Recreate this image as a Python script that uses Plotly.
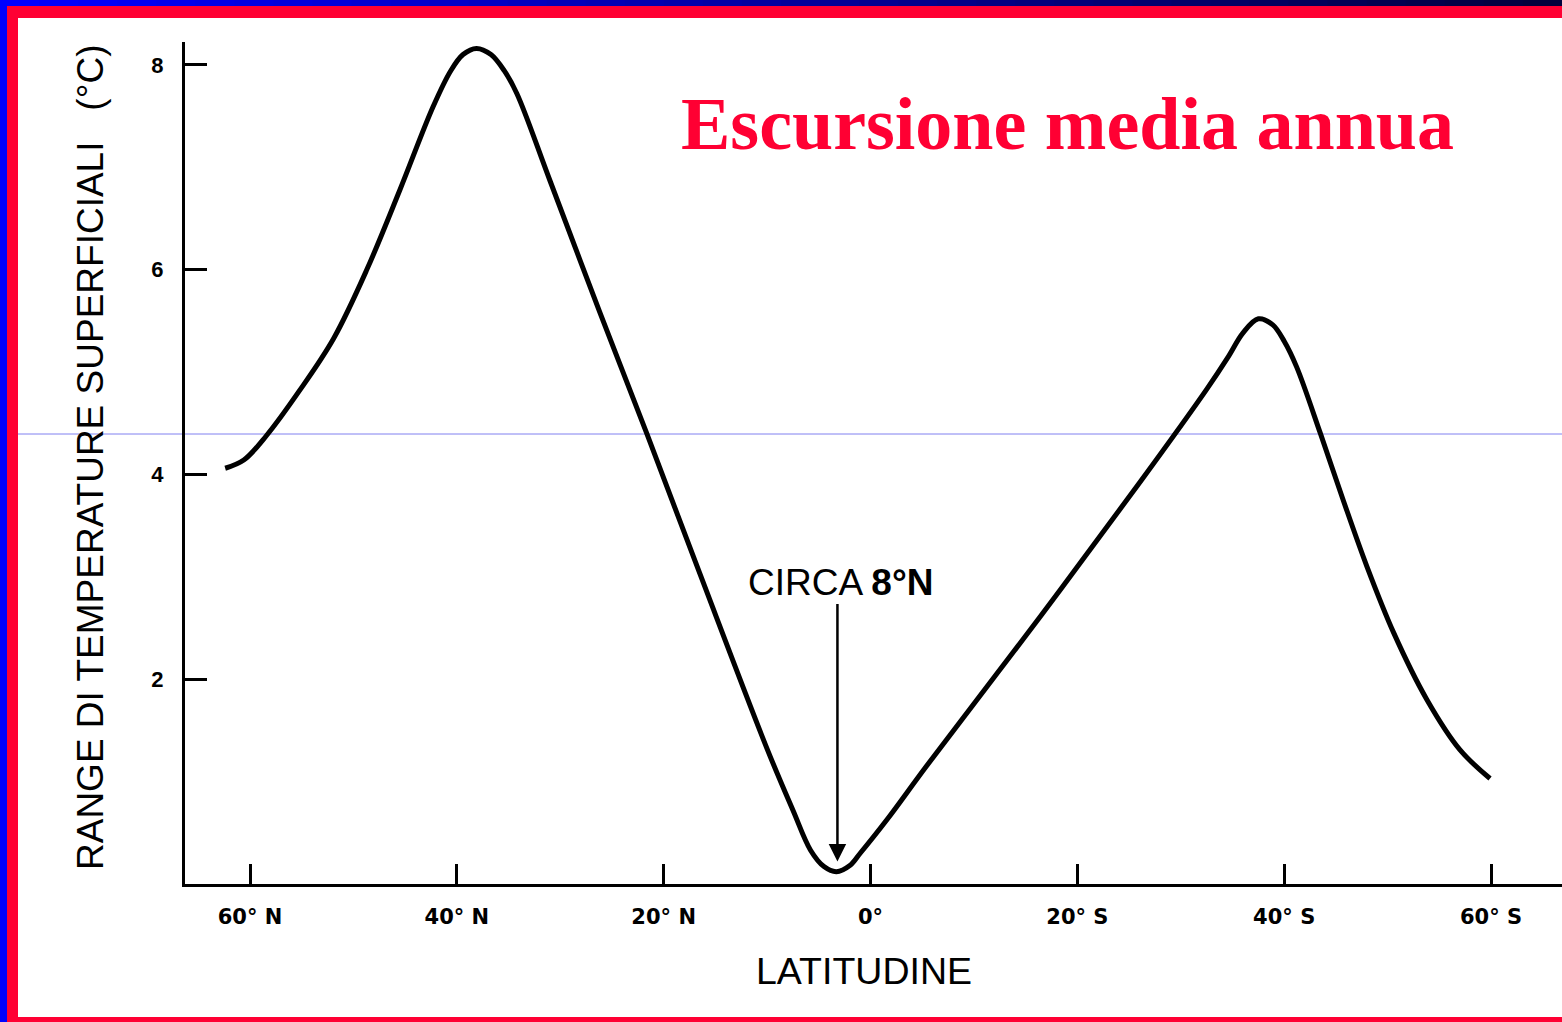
import plotly.graph_objects as go

# Latitude in degrees (north negative, south positive) and mean annual
# range of sea-surface temperature (°C)
latitude = [-62.4, -60.6, -58.4, -55.2, -51.9, -48.7, -45.5, -42.3, -40.6,
            -39.4, -38.1, -36.7, -35.4, -34.2, -31.0, -26.2, -21.6, -16.5,
            -10.0, -7.5, -5.8, -4.5, -3.3, -2.0, -1.0, 1.6, 5.4, 16.4, 26.1,
            32.5, 34.6, 36.0, 37.5, 38.9, 40.0, 41.2, 43.5, 45.7, 48.0, 50.6,
            53.8, 57.0, 59.9]
temp_range = [4.06, 4.14, 4.38, 4.82, 5.33, 6.00, 6.78, 7.59, 7.94,
              8.10, 8.16, 8.10, 7.94, 7.72, 6.87, 5.59, 4.39, 3.03,
              1.32, 0.72, 0.33, 0.17, 0.12, 0.18, 0.30, 0.63, 1.15, 2.61, 3.93,
              4.83, 5.15, 5.38, 5.52, 5.46, 5.30, 5.05, 4.40, 3.75, 3.10, 2.45,
              1.80, 1.31, 1.03]

x_tick_vals = [-60, -40, -20, 0, 20, 40, 60]
x_tick_text = ["60° N", "40° N", "20° N", "0°", "20° S", "40° S", "60° S"]
y_tick_vals = [2, 4, 6, 8]
y_tick_text = ["2", "4", "6", "8"]

# Minimum of the curve pointed at by the arrow
min_lat = -3.2
min_val = 0.22
arrow_top = 2.75

title_text = "Escursione media annua"
x_title = "LATITUDINE"
y_title = "RANGE DI TEMPERATURE SUPERFICIALI&nbsp;&nbsp;&nbsp;(°C)"
note_text = "CIRCA <b>8°N</b>"

RED = "#FF0033"
BLUE = "#0000FF"

# Page and plot-area geometry (pixels)
PAGE_W, PAGE_H = 1562, 1022
L, T = 185, 42
W, H = PAGE_W - L, 884 - T


def px(xp):
    return (xp - L) / W


def py(yp):
    return (T + H - yp) / H


fig = go.Figure()
fig.add_trace(go.Scatter(
    x=latitude, y=temp_range, mode="lines",
    line=dict(color="black", width=5, shape="spline", smoothing=1.0),
    hoverinfo="skip", showlegend=False,
))

shapes = []
# top strip: blue fading to navy
n_seg = 40
for i in range(n_seg):
    f = i / (n_seg - 1)
    r, g, b = 0, 0, int(255 - f * (255 - 60))
    x0 = i * PAGE_W / n_seg
    x1 = (i + 1) * PAGE_W / n_seg + 1
    shapes.append(dict(type="rect", xref="paper", yref="paper",
                       x0=px(x0), x1=px(x1), y0=py(0), y1=py(6),
                       fillcolor=f"rgb({r},{g},{b})", line_width=0, layer="above"))
# left blue strip
shapes.append(dict(type="rect", xref="paper", yref="paper",
                   x0=px(0), x1=px(7), y0=py(0), y1=py(PAGE_H),
                   fillcolor=BLUE, line_width=0, layer="above"))
# red frame: top, left, bottom
shapes.append(dict(type="rect", xref="paper", yref="paper",
                   x0=px(7), x1=px(PAGE_W), y0=py(6), y1=py(18),
                   fillcolor=RED, line_width=0, layer="above"))
shapes.append(dict(type="rect", xref="paper", yref="paper",
                   x0=px(7), x1=px(18), y0=py(6), y1=py(PAGE_H),
                   fillcolor=RED, line_width=0, layer="above"))
shapes.append(dict(type="rect", xref="paper", yref="paper",
                   x0=px(7), x1=px(PAGE_W), y0=py(1017), y1=py(PAGE_H),
                   fillcolor=RED, line_width=0, layer="above"))
# thin horizontal guide line
shapes.append(dict(type="line", xref="paper", yref="paper",
                   x0=px(18), x1=px(PAGE_W), y0=py(434), y1=py(434),
                   line=dict(color="#8080F0", width=1), layer="below"))

annotations = [
    dict(text=title_text, xref="paper", yref="paper",
         x=px(1067), y=py(124), xanchor="center", yanchor="middle",
         showarrow=False,
         font=dict(family="Liberation Serif", size=74, color=RED, weight="bold")),
    dict(text=x_title, xref="paper", yref="paper",
         x=px(864), y=py(971), xanchor="center", yanchor="middle",
         showarrow=False,
         font=dict(family="Liberation Sans", size=37.5, color="black")),
    dict(text=y_title, xref="paper", yref="paper",
         x=px(90), y=py(458), xanchor="center", yanchor="middle",
         textangle=-90, showarrow=False,
         font=dict(family="Liberation Sans", size=37, color="black")),
    dict(text=note_text, xref="paper", yref="paper",
         x=px(840), y=py(582), xanchor="center", yanchor="middle",
         showarrow=False,
         font=dict(family="Liberation Sans", size=37, color="black")),
    dict(text="", x=min_lat, y=min_val, xref="x", yref="y",
         ax=min_lat, ay=arrow_top, axref="x", ayref="y",
         showarrow=True, arrowhead=2, arrowsize=1.4, arrowwidth=2.5,
         arrowcolor="black"),
]

x_range = [-60 - (250 - L) / 10.342, -60 - (250 - L) / 10.342 + W / 10.342]
y_range = [0, H / 102.4]

fig.update_layout(
    width=PAGE_W, height=PAGE_H,
    margin=dict(l=L, r=0, t=T, b=PAGE_H - T - H, pad=0),
    paper_bgcolor="white", plot_bgcolor="rgba(0,0,0,0)",
    shapes=shapes, annotations=annotations, showlegend=False,
    xaxis=dict(range=x_range, showgrid=False, zeroline=False,
               showline=True, linecolor="black", linewidth=3,
               ticks="inside", ticklen=20, tickwidth=3, tickcolor="black",
               tickvals=x_tick_vals, ticktext=x_tick_text,
               ticklabelstandoff=12,
               tickfont=dict(family="DejaVu Sans", size=21, color="black",
                             weight="bold")),
    yaxis=dict(range=y_range, showgrid=False, zeroline=False,
               showline=True, linecolor="black", linewidth=3,
               ticks="inside", ticklen=22, tickwidth=3, tickcolor="black",
               tickvals=y_tick_vals, ticktext=y_tick_text,
               ticklabelstandoff=14,
               tickfont=dict(family="Liberation Sans Narrow, Liberation Sans",
                             size=22, color="black", weight="bold")),
)

fig.write_html("out.html")
